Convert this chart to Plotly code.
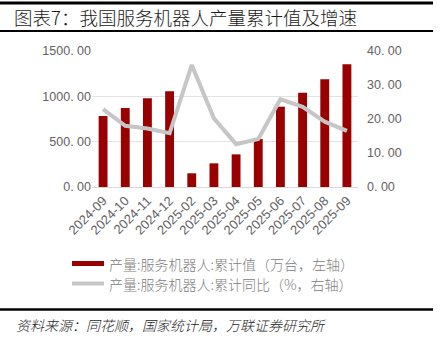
import plotly.graph_objects as go

# Monthly data
months = ["2024-09", "2024-10", "2024-11", "2024-12", "2025-02", "2025-03",
          "2025-04", "2025-05", "2025-06", "2025-07", "2025-08", "2025-09"]
output_cum = [783, 871, 978, 1055, 151, 261, 360, 529, 886, 1040, 1188, 1353]   # 万台
yoy_cum = [22.9, 18.0, 17.2, 15.8, 35.9, 20.2, 12.6, 14.1, 25.8, 23.6, 19.2, 16.5]  # %

left_ticks = [0, 500, 1000, 1500]
left_tick_text = ["0. 00", "500. 00", "1000. 00", "1500. 00"]
right_ticks = [0, 10, 20, 30, 40]
right_tick_text = ["0. 00", "10. 00", "20. 00", "30. 00", "40. 00"]

title_text = "图表7：我国服务机器人产量累计值及增速"
legend_bar = "产量:服务机器人:累计值（万台，左轴）"
legend_line = "产量:服务机器人:累计同比（%，右轴）"
source_text = "资料来源：同花顺，国家统计局，万联证券研究所"

W, H = 442, 349
L, R, T, B = 92, 358, 51, 187

def px(x):
    return (x - L) / (R - L)

def py(y):
    return (B - y) / (B - T)

BAR_COLOR = "#990000"
LINE_COLOR = "#c6c6c6"
TICK_COLOR = "#636363"
CJK = "Noto Sans CJK SC"

fig = go.Figure()
fig.add_trace(go.Bar(x=months, y=output_cum, marker=dict(color=BAR_COLOR, line=dict(width=0)),
                     yaxis="y", showlegend=False))
fig.add_trace(go.Scatter(x=months, y=yoy_cum, mode="lines",
                         line=dict(color=LINE_COLOR, width=4), yaxis="y2", showlegend=False))

fig.update_layout(
    width=W, height=H,
    margin=dict(l=L, r=W - R, t=T, b=H - B),
    paper_bgcolor="white", plot_bgcolor="white",
    bargap=0.6,
    xaxis=dict(type="category", tickangle=-45, showgrid=False, showline=True,
               linecolor="#d9d9d9", linewidth=1, ticks="",
               tickfont=dict(family="Liberation Sans, Arial", size=13, color=TICK_COLOR)),
    yaxis=dict(range=[0, 1500], tickvals=left_ticks, ticktext=left_tick_text,
               showgrid=True, gridcolor="#e3e3e3", gridwidth=1, zeroline=False,
               ticks="", ticklen=0, showline=False,
               tickfont=dict(family="Liberation Sans, Arial", size=12.5, color=TICK_COLOR)),
    yaxis2=dict(range=[0, 40], tickvals=right_ticks, ticktext=right_tick_text,
                overlaying="y", side="right", showgrid=False, zeroline=False,
                ticks="", showline=False, ticklabelstandoff=8,
                tickfont=dict(family="Liberation Sans, Arial", size=12.5, color=TICK_COLOR)),
)

shapes = [
    # heading rules
    dict(type="line", xref="paper", yref="paper", x0=px(0), x1=px(433), y0=py(3), y1=py(3),
         line=dict(color="black", width=3)),
    dict(type="line", xref="paper", yref="paper", x0=px(0), x1=px(433), y0=py(31), y1=py(31),
         line=dict(color="black", width=2)),
    # footer rule
    dict(type="line", xref="paper", yref="paper", x0=px(0), x1=px(433), y0=py(309.5), y1=py(309.5),
         line=dict(color="black", width=2.5)),
    # legend swatches
    dict(type="rect", xref="paper", yref="paper", x0=px(72), x1=px(104), y0=py(266), y1=py(261),
         fillcolor=BAR_COLOR, line=dict(width=0)),
    dict(type="line", xref="paper", yref="paper", x0=px(72), x1=px(104), y0=py(283.5), y1=py(283.5),
         line=dict(color=LINE_COLOR, width=4)),
]

annotations = [
    dict(text=title_text, xref="paper", yref="paper", x=px(12), y=py(17), xanchor="left",
         yanchor="middle", showarrow=False,
         font=dict(family=CJK, size=18.5, color="#1a1a1a", weight=300)),
    dict(text=legend_bar, xref="paper", yref="paper", x=px(107), y=py(263.5), xanchor="left",
         yanchor="middle", showarrow=False,
         font=dict(family=CJK, size=14, color="#808080", weight=300)),
    dict(text=legend_line, xref="paper", yref="paper", x=px(107), y=py(284), xanchor="left",
         yanchor="middle", showarrow=False,
         font=dict(family=CJK, size=14, color="#808080", weight=300)),
    dict(text="<i>" + source_text + "</i>", xref="paper", yref="paper", x=px(14), y=py(325),
         xanchor="left", yanchor="middle", showarrow=False,
         font=dict(family=CJK, size=14, color="#262626", weight=300)),
]

fig.update_layout(shapes=shapes, annotations=annotations)
fig.write_html("out.html")
